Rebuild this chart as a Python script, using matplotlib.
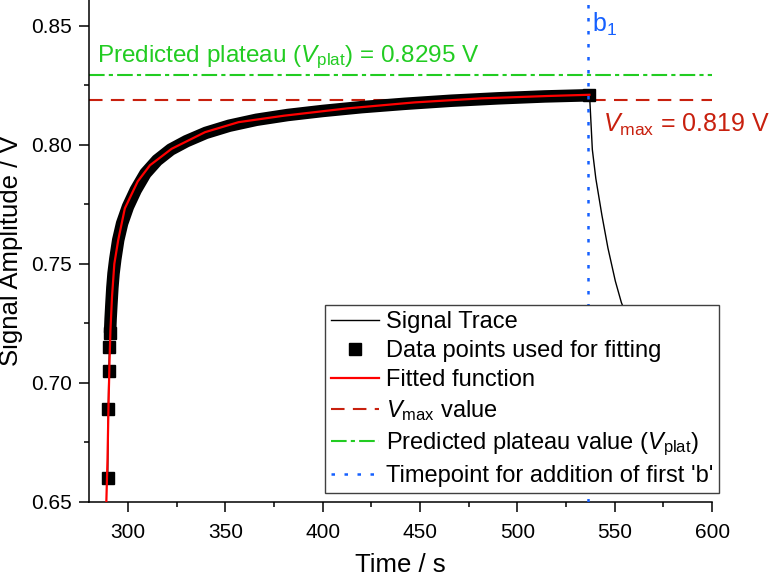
import numpy as np
import matplotlib
matplotlib.use("Agg")
import matplotlib.pyplot as plt
from matplotlib.ticker import MultipleLocator

# --- fonts (Arial-like) ---
plt.rcParams['font.family'] = ['Liberation Sans', 'DejaVu Sans']
plt.rcParams['mathtext.fontset'] = 'custom'
plt.rcParams['mathtext.rm'] = 'Liberation Sans'
plt.rcParams['mathtext.it'] = 'Liberation Sans:italic'

# --- data ---
# points used for fitting (squares / thick band)
data_t = [289.6, 289.9, 290.2, 290.5, 290.8, 291.1, 291.5, 292.0, 292.6, 293.5,
          295.0, 297.0, 300.0, 304.0, 309.0, 315.0, 322.0, 330.0, 340.0, 352.0,
          366.0, 382.0, 400.0, 420.0, 442.0, 466.0, 490.0, 514.0, 537.0]
data_v = [0.660, 0.689, 0.705, 0.715, 0.721, 0.727, 0.733, 0.740, 0.746, 0.752,
          0.760, 0.767, 0.774, 0.781, 0.788, 0.7935, 0.798, 0.8015, 0.805, 0.808,
          0.8105, 0.8125, 0.8142, 0.8158, 0.8172, 0.8185, 0.8195, 0.8203, 0.8208]

# signal trace after the fitting window (decay after addition of b)
decay_t = [537.2, 538.5, 540.3, 543.4, 546.5, 550.3, 553.4, 560.0, 570.0]
decay_v = [0.819, 0.798, 0.7858, 0.7705, 0.7567, 0.7428, 0.7338, 0.720, 0.700]

# fitted function
fit_t = [288.9, 289.5, 290.0, 290.5, 291.0, 291.8, 293.0, 295.0, 298.4, 305.0,
         311.3, 322.4, 339.6, 356.8, 380.0, 412.8, 447.2, 481.6, 516.0, 537.0]
fit_v = [0.650, 0.668, 0.690, 0.708, 0.722, 0.736, 0.750, 0.760, 0.7733, 0.7846,
         0.7914, 0.7983, 0.8053, 0.8095, 0.8122, 0.8153, 0.8178, 0.8195, 0.8205, 0.8210]

V_max = 0.819
V_plat = 0.8295
t_b1 = 536.5

# colours
c_fit = '#ff0000'
c_vmax = '#c8200e'
c_plat = '#22cc22'
c_b = '#1560ff'

fig = plt.figure(figsize=(7.74, 5.79), dpi=100)
ax = fig.add_axes([0.115, 0.133, 0.805, 0.867])

# signal trace (thin black)
ax.plot(data_t + decay_t, data_v + decay_v, color='black', lw=1.0, label='Signal Trace', zorder=2)

# data points used for fitting: separate squares at the start, dense band after
n_sep = 5
ax.plot(data_t[n_sep - 1:], data_v[n_sep - 1:], color='black', lw=9,
        solid_capstyle='butt', solid_joinstyle='round', zorder=3)
ax.plot(data_t[:n_sep], data_v[:n_sep], 's', color='black', ms=8, ls='none',
        label='Data points used for fitting', zorder=3)
ax.plot(data_t[-1:], data_v[-1:], 's', color='black', ms=8, ls='none', zorder=3)

# fitted function
ax.plot(fit_t, fit_v, color=c_fit, lw=1.6, label='Fitted function', zorder=4)

# reference lines
ax.axhline(V_max, color=c_vmax, lw=1.5, dashes=(6.5, 4), label=r'$V_\mathrm{max}$ value', zorder=1)
ax.axhline(V_plat, color=c_plat, lw=1.5, dashes=(7.5, 2, 2, 2),
           label=r'Predicted plateau value ($V_\mathrm{plat}$)', zorder=1)
ax.axvline(t_b1, color=c_b, lw=1.8, dashes=(1.4, 3.8),
           label="Timepoint for addition of first 'b'", zorder=5)

# annotations
ax.text(284.1, 0.8348, r'Predicted plateau ($V_\mathrm{plat}$) = 0.8295 V',
        color=c_plat, fontsize=17.5, va='baseline')
ax.text(544, 0.8054, r'$V_\mathrm{max}$ = 0.819 V', color=c_vmax, fontsize=18, va='baseline')
ax.text(538.3, 0.8474, r'b$_1$', color=c_b, fontsize=18, va='baseline')

# axes formatting
ax.set_xlim(280, 600)
ax.set_ylim(0.65, 0.8608)
ax.xaxis.set_major_locator(MultipleLocator(50))
ax.xaxis.set_minor_locator(MultipleLocator(25))
ax.yaxis.set_major_locator(MultipleLocator(0.05))
ax.yaxis.set_minor_locator(MultipleLocator(0.025))
ax.yaxis.set_major_formatter(matplotlib.ticker.FormatStrFormatter('%.2f'))
ax.tick_params(which='major', direction='out', length=7, width=1.1, labelsize=15, pad=5)
ax.tick_params(axis='x', which='major', pad=8)
ax.tick_params(which='minor', direction='out', length=3.5, width=1.1)
for s in ['top', 'right']:
    ax.spines[s].set_visible(False)
for s in ['left', 'bottom']:
    ax.spines[s].set_linewidth(1.1)

ax.set_xlabel('Time / s', fontsize=18.5, labelpad=8)
ax.set_ylabel('Signal Amplitude / V', fontsize=18.5, labelpad=6)

leg = ax.legend(loc='upper right', bbox_to_anchor=(1.011, 0.392), borderaxespad=0,
                fontsize=17, frameon=True, fancybox=False, framealpha=1,
                edgecolor='#404040', handlelength=2.0, handletextpad=0.3,
                labelspacing=0.3, borderpad=0.25)
leg.get_frame().set_linewidth(1.0)
leg.set_zorder(10)

fig.savefig('out.png', dpi=100)
